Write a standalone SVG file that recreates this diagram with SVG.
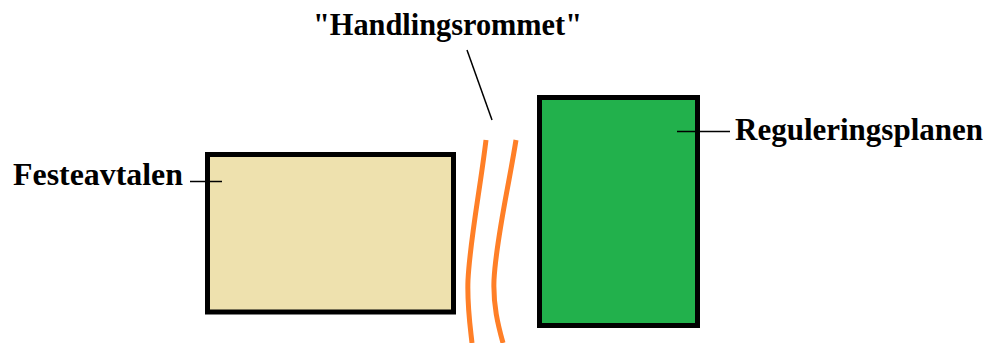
<svg xmlns="http://www.w3.org/2000/svg" width="988" height="343" viewBox="0 0 988 343">
<style>
.lbl{font-family:"Liberation Serif","Times New Roman",serif;font-weight:bold;font-size:31px;fill:#000}
.box{stroke:#000;stroke-width:5}
.lead{stroke:#000;stroke-width:1.5;fill:none}
.arc{stroke:#FF7F27;stroke-width:5;fill:none}
</style>
<rect width="988" height="343" fill="#fff"/>
<g id="festeavtalen">
<rect class="box" x="207.5" y="154.5" width="246" height="157.5" fill="#EEE1AE"/>
<text class="lbl" x="13" y="185" textLength="170" lengthAdjust="spacingAndGlyphs">Festeavtalen</text>
</g>
<g id="reguleringsplanen">
<rect class="box" x="539.5" y="97.5" width="158" height="228" fill="#22B14C"/>
<text class="lbl" x="735" y="140" textLength="248" lengthAdjust="spacingAndGlyphs">Reguleringsplanen</text>
</g>
<g id="handlingsrommet">
<path class="arc" d="M486,140 C480,190 470,240 468,280 C467,305 470,325 472,343"/>
<path class="arc" d="M516,140 C508,190 496,240 494,280 C493,305 498,325 503,343"/>
<text class="lbl" x="313" y="35" textLength="269" lengthAdjust="spacingAndGlyphs">"Handlingsrommet"</text>
</g>
<g id="connectors">
<line class="lead" x1="190" y1="181.5" x2="222" y2="181.5"/>
<line class="lead" x1="677" y1="131.5" x2="730" y2="131.5"/>
<line class="lead" x1="467" y1="50" x2="492" y2="120"/>
</g>
</svg>
